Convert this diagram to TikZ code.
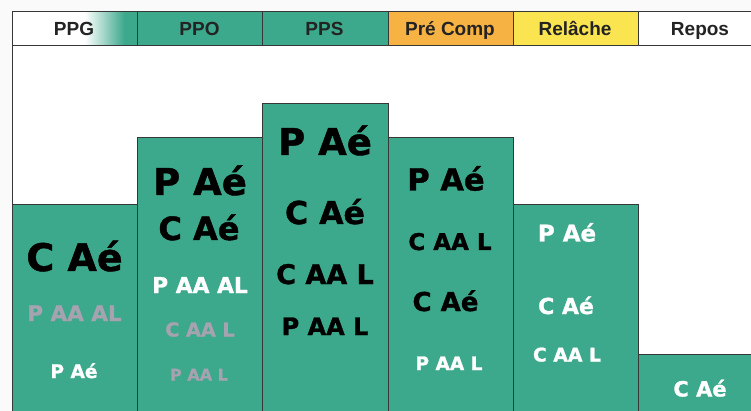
\documentclass[tikz,border=0pt]{standalone}
\usepackage{fontspec}
\setmainfont{Liberation Sans}
\newfontfamily\barfont{DejaVu Sans}[BoldFeatures={FakeBold=1.2}]
\newfontfamily\headfont{Liberation Sans}
\definecolor{teal1}{RGB}{60,168,140}
\definecolor{orange1}{RGB}{246,178,66}
\definecolor{yellow1}{RGB}{250,228,80}
\definecolor{gray1}{RGB}{165,163,175}
\definecolor{line1}{RGB}{55,55,55}
\definecolor{bg1}{RGB}{250,250,250}
\definecolor{head1}{RGB}{35,35,35}
\tikzset{
  x=1pt, y=-1pt,
  bar/.style={fill=teal1, draw=line1, line width=0.9pt},
  rule/.style={draw=line1, line width=0.9pt},
  lbl/.style={anchor=base, inner sep=0pt, font=\barfont\bfseries},
  hlbl/.style={anchor=base, inner sep=0pt, text=head1, font=\headfont\bfseries\fontsize{19}{21}\selectfont},
}
\newcommand{\fs}[1]{\fontsize{#1}{#1}\selectfont}
\begin{document}
\begin{tikzpicture}
\useasboundingbox (0,0) rectangle (751,411);
\fill[bg1] (0,0) rectangle (751,411);
\clip (0,0) rectangle (751,411);
% header
\fill[white] (12,11) rectangle (86,45);
\foreach \i in {0,...,39} {
  \pgfmathsetmacro{\pc}{100*(\i+0.5)/40}
  \fill[teal1!\pc!white] ({85+\i},11) rectangle ({86.2+\i},45);
}
\fill[teal1] (125,11) rectangle (388,45);
\fill[orange1] (388,11) rectangle (513,45);
\fill[yellow1] (513,11) rectangle (638,45);
\fill[white] (638,11) rectangle (760,45);
\fill[white] (12,45) rectangle (760,420);
\draw[rule] (760,11) -- (12,11) -- (12,420);
\draw[rule] (12,45) -- (760,45);
\foreach \xx in {137,262,388,513,638} \draw[rule] (\xx,11) -- (\xx,45);
% bars
\draw[bar] (12,204) rectangle (137,420);
\draw[bar] (137,137) rectangle (262,420);
\draw[bar] (262,103) rectangle (388,420);
\draw[bar] (388,137) rectangle (513,420);
\draw[bar] (513,204) rectangle (638,420);
\draw[bar] (638,354) rectangle (770,420);
% header labels
\node[hlbl] (hppg) at (74,36) {PPG};
\node[hlbl] (hppo) at (199.5,36) {PPO};
\node[hlbl] (hpps) at (324.5,36) {PPS};
\node[hlbl] (hpre) at (450,36) {Pré Comp};
\node[hlbl] (hrel) at (575,36) {Relâche};
\node[hlbl] (hrep) at (700,36) {Repos};
% column 1
\node[lbl, text=black] (a1) at (74.5,271) {\fs{38}C Aé};
\node[lbl, text=gray1] (a2) at (74.5,321) {\fs{21.5}P AA AL};
\node[lbl, text=white] (a3) at (74,378) {\fs{18.6}P Aé};
% column 2
\node[lbl, text=black] (b1) at (200,195) {\fs{37}P Aé};
\node[lbl, text=black] (b2) at (199,240) {\fs{32}C Aé};
\node[lbl, text=white] (b3) at (200,293) {\fs{21.8}P AA AL};
\node[lbl, text=gray1] (b4) at (200,336.5) {\fs{19.2}C AA L};
\node[lbl, text=gray1] (b5) at (199,380.5) {\fs{16}P AA L};
% column 3
\node[lbl, text=black] (c1) at (325,155) {\fs{37}P Aé};
\node[lbl, text=black] (c2) at (325,224) {\fs{31.5}C Aé};
\node[lbl, text=black] (c3) at (325,284) {\fs{27}C AA L};
\node[lbl, text=black] (c4) at (325,335) {\fs{24}P AA L};
% column 4
\node[lbl, text=black] (d1) at (446,190.5) {\fs{30.5}P Aé};
\node[lbl, text=black] (d2) at (450,250) {\fs{23}C AA L};
\node[lbl, text=black] (d3) at (445.5,311) {\fs{26}C Aé};
\node[lbl, text=white] (d4) at (449,370) {\fs{18.5}P AA L};
% column 5
\node[lbl, text=white] (e1) at (567,241.5) {\fs{23}P Aé};
\node[lbl, text=white] (e2) at (566,314) {\fs{22}C Aé};
\node[lbl, text=white] (e3) at (567,361.5) {\fs{18.8}C AA L};
% column 6
\node[lbl, text=white] (f1) at (700,396.5) {\fs{21}C Aé};
\end{tikzpicture}
\end{document}
